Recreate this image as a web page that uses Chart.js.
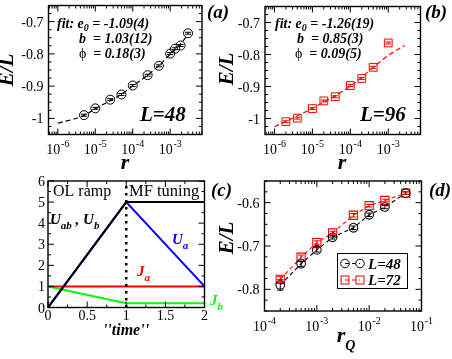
<!DOCTYPE html>
<html><head><meta charset="utf-8">
<script src="https://cdn.jsdelivr.net/npm/chart.js@4/dist/chart.umd.min.js"></script>
<style>
html,body{margin:0;padding:0;background:#fff;}
#wrap{position:relative;width:452px;height:359px;overflow:hidden;background:#fff;}
canvas{position:absolute;left:0;top:0;}
</style></head><body>
<div id="wrap">
<canvas id="ca" width="452" height="359"></canvas>
<canvas id="cb" width="452" height="359"></canvas>
<canvas id="cc" width="452" height="359"></canvas>
<canvas id="cd" width="452" height="359"></canvas>
</div>
<script>
// ---------- data ----------
// panel (a): L=48
const aR = [5e-6, 1e-5, 2.5e-5, 5e-5, 1e-4, 2.5e-4, 5e-4, 1e-3, 1.35e-3, 1.9e-3, 3e-3];
const aE = [-0.990, -0.969, -0.942, -0.926, -0.898, -0.866, -0.837, -0.799, -0.784, -0.774, -0.736];
const aErr = [0.003, 0.003, 0.003, 0.003, 0.003, 0.003, 0.003, 0.003, 0.003, 0.003, 0.003];
const aFitR = [1e-6, 5e-6, 1e-5, 2.5e-5, 5e-5, 1e-4, 2.5e-4, 5e-4, 1e-3, 2e-3, 3e-3];
const aFitE = [-1.015, -0.991, -0.970, -0.945, -0.925, -0.899, -0.866, -0.836, -0.801, -0.766, -0.740];
// panel (b): L=96
const bR = [2e-6, 4e-6, 1e-5, 2e-5, 4e-5, 1e-4, 2e-4, 4e-4, 1e-3];
const bE = [-1.010, -0.999, -0.969, -0.945, -0.932, -0.897, -0.875, -0.840, -0.764];
const bErr = [0.003, 0.003, 0.003, 0.003, 0.003, 0.003, 0.003, 0.003, 0.003];
const bFitR = [1e-6, 1e-5, 1e-4, 1e-3, 2.7e-3];
const bFitE = [-1.026, -0.968, -0.899, -0.803, -0.772];
// panel (c): schedule
const cT = [0, 1, 2];
const cUab = [0, 5, 5];
const cUa = [0, 5, 1];
const cJa = [1, 1, 1];
const cJb = [1, 0.2, 0.2];
const cDotT = [1, 1];
const cDotY = [0, 6];
// panel (d)
const dR = [2e-4, 5e-4, 1e-3, 2e-3, 5e-3, 1e-2, 2e-2, 5e-2];
const d48 = [-0.790, -0.741, -0.709, -0.680, -0.658, -0.628, -0.610, -0.578];
const d48Err = [0.012, 0.006, 0.005, 0.004, 0.004, 0.004, 0.004, 0.003];
const d72 = [-0.777, -0.726, -0.692, -0.670, -0.629, -0.607, -0.595, -0.578];
const d72Err = [0.007, 0.005, 0.004, 0.004, 0.004, 0.003, 0.003, 0.003];
// tick labels
const abYTicks = [-1, -0.9, -0.8, -0.7];
const abYLabels = ['-1', '-0.9', '-0.8', '-0.7'];
const abXExp = [-6, -5, -4, -3];
const cXTicks = [0, 0.5, 1, 1.5, 2];
const cXLabels = ['0', '0.5', '1', '1.5', '2'];
const cYTicks = [0, 1, 2, 3, 4, 5, 6];
const cYLabels = ['0', '1', '2', '3', '4', '5', '6'];
const dYTicks = [-0.8, -0.7, -0.6];
const dYLabels = ['-0.8', '-0.7', '-0.6'];
const dXExp = [-4, -3, -2, -1];

// ---------- helpers ----------
const SERIF = '"Liberation Serif","Times New Roman",serif';
function fnt(size, style) { return (style || '') + ' ' + size + 'px ' + SERIF; }
function pts(xs, ys) { return xs.map((x, i) => ({x: x, y: ys[i]})); }

function logTicks(min, max) {
  const out = [];
  for (let d = Math.floor(Math.log10(min)); d <= Math.ceil(Math.log10(max)); d++) {
    for (let m = 1; m <= 9; m++) {
      const v = m * Math.pow(10, d);
      if (v >= min * 0.9999 && v <= max * 1.0001) out.push({v: v, major: m === 1});
    }
  }
  return out;
}
function linTicks(min, max, minor, major) {
  const out = [];
  const start = Math.ceil(min / minor - 1e-6);
  for (let i = start; i * minor <= max + 1e-9; i++) {
    const v = i * minor;
    out.push({v: v, major: Math.abs(v / major - Math.round(v / major)) < 1e-6});
  }
  return out;
}
function drawFrameTicks(chart, xt, yt) {
  const ctx = chart.ctx, a = chart.chartArea;
  const xs = chart.scales.x, ys = chart.scales.y;
  ctx.save();
  ctx.strokeStyle = '#000';
  ctx.lineWidth = 1;
  ctx.beginPath();
  xt.forEach(t => {
    const p = xs.getPixelForValue(t.v), L = t.major ? 6 : 3;
    ctx.moveTo(p, a.bottom); ctx.lineTo(p, a.bottom - L);
    ctx.moveTo(p, a.top); ctx.lineTo(p, a.top + L);
  });
  yt.forEach(t => {
    const p = ys.getPixelForValue(t.v), L = t.major ? 6 : 3;
    ctx.moveTo(a.left, p); ctx.lineTo(a.left + L, p);
    ctx.moveTo(a.right, p); ctx.lineTo(a.right - L, p);
  });
  ctx.stroke();
  ctx.lineWidth = 1.4;
  ctx.strokeRect(a.left, a.top, a.right - a.left, a.bottom - a.top);
  ctx.restore();
}
function txt(ctx, s, x, y, font, color, align) {
  ctx.font = font; ctx.fillStyle = color || '#000';
  ctx.textAlign = align || 'left'; ctx.textBaseline = 'alphabetic';
  ctx.fillText(s, x, y);
}
// rich text: parts [{t, font, dy, color}]
function rich(ctx, parts, x, y, align) {
  let w = 0;
  parts.forEach(p => { ctx.font = p.font; p.w = ctx.measureText(p.t).width; w += p.w; });
  let cx = align === 'center' ? x - w / 2 : (align === 'right' ? x - w : x);
  parts.forEach(p => {
    ctx.font = p.font; ctx.fillStyle = p.color || '#000';
    ctx.textAlign = 'left'; ctx.textBaseline = 'alphabetic';
    ctx.fillText(p.t, cx, y + (p.dy || 0));
    cx += p.w;
  });
}
function yLabelsDraw(chart, vals, labels, gap) {
  const ctx = chart.ctx, ys = chart.scales.y, a = chart.chartArea;
  vals.forEach((v, i) => txt(ctx, labels[i], a.left - gap, ys.getPixelForValue(v) + 5, fnt(14), '#000', 'right'));
}
function xLogLabels(chart, exps, baseline) {
  const ctx = chart.ctx, xs = chart.scales.x;
  exps.forEach(e => {
    const p = xs.getPixelForValue(Math.pow(10, e));
    rich(ctx, [{t: '10', font: fnt(14)}, {t: ' ' , font: fnt(3)}, {t: String(e), font: fnt(10), dy: -7}], p, baseline, 'center');
  });
}
function vTitle(ctx, s, x, y, size) {
  ctx.save();
  ctx.translate(x, y); ctx.rotate(-Math.PI / 2);
  txt(ctx, s, 0, 0, fnt(size, 'italic bold'), '#000', 'center');
  ctx.restore();
}
function errBars(chart, dsIndex, errs, color, cap) {
  const ctx = chart.ctx, xs = chart.scales.x, ys = chart.scales.y;
  const data = chart.data.datasets[dsIndex].data;
  ctx.save(); ctx.strokeStyle = color; ctx.lineWidth = 1; ctx.beginPath();
  data.forEach((d, i) => {
    const px = xs.getPixelForValue(d.x);
    const y1 = ys.getPixelForValue(d.y - errs[i]), y2 = ys.getPixelForValue(d.y + errs[i]);
    ctx.moveTo(px, y1); ctx.lineTo(px, y2);
    ctx.moveTo(px - cap, y1); ctx.lineTo(px + cap, y1);
    ctx.moveTo(px - cap, y2); ctx.lineTo(px + cap, y2);
  });
  ctx.stroke(); ctx.restore();
}
function baseOpts(area, xs, ys) {
  return {
    responsive: false, animation: false, devicePixelRatio: 1, events: [],
    layout: {padding: {left: area[0], top: area[1], right: 452 - area[2], bottom: 359 - area[3]}},
    plugins: {legend: {display: false}, tooltip: {enabled: false}},
    scales: {x: Object.assign({display: false}, xs), y: Object.assign({display: false}, ys)}
  };
}

// ---------- panel (a) ----------
const abXmin = Math.pow(10, -6.25), abXmax = Math.pow(10, -2.15);
new Chart(document.getElementById('ca'), {
  type: 'scatter',
  data: {datasets: [
    {data: pts(aR, aE), showLine: false, pointStyle: 'circle', pointRadius: 4.5, borderColor: '#000', borderWidth: 1, backgroundColor: 'rgba(0,0,0,0)'},
    {data: pts(aFitR, aFitE), showLine: true, pointRadius: 0, borderColor: '#000', borderWidth: 1.2, borderDash: [5, 3], cubicInterpolationMode: 'monotone'}
  ]},
  options: baseOpts([48.5, 1.5, 202, 134.5], {type: 'logarithmic', min: abXmin, max: abXmax}, {type: 'linear', min: -1.05, max: -0.65}),
  plugins: [{id: 'decoA', afterDraw(chart) {
    const ctx = chart.ctx;
    errBars(chart, 0, aErr, '#000', 3);
    drawFrameTicks(chart, logTicks(abXmin, abXmax), linTicks(-1.05, -0.65, 0.025, 0.1));
    yLabelsDraw(chart, abYTicks, abYLabels, 5);
    xLogLabels(chart, abXExp, 153.5);
    txt(ctx, 'r', 125, 169, fnt(22, 'italic bold'), '#000', 'center');
    vTitle(ctx, 'E/L', 13, 70, 21);
    const bi = fnt(14, 'italic bold');
    rich(ctx, [{t: 'fit: e', font: bi}, {t: '0', font: fnt(10, 'italic bold'), dy: 3}, {t: ' = -1.09(4)', font: bi}], 57, 28);
    rich(ctx, [{t: 'b', font: bi}, {t: '  = 1.03(12)', font: bi}], 79, 43);
    rich(ctx, [{t: 'ϕ', font: fnt(14)}, {t: '  = 0.18(3)', font: bi}], 79, 58);
    txt(ctx, 'L=48', 140, 121, fnt(21, 'italic bold'), '#000', 'left');
    txt(ctx, '(a)', 207, 18, fnt(19, 'italic bold'), '#000', 'left');
  }}]
});

// ---------- panel (b) ----------
new Chart(document.getElementById('cb'), {
  type: 'scatter',
  data: {datasets: [
    {data: pts(bR, bE), showLine: false, pointStyle: 'rect', pointRadius: 5.5, borderColor: '#ff0000', borderWidth: 1, backgroundColor: 'rgba(0,0,0,0)'},
    {data: pts(bFitR, bFitE), showLine: true, pointRadius: 0, borderColor: '#ff0000', borderWidth: 1.2, borderDash: [5, 3], cubicInterpolationMode: 'monotone'}
  ]},
  options: baseOpts([265, 1.5, 420.5, 134.5], {type: 'logarithmic', min: abXmin, max: abXmax}, {type: 'linear', min: -1.05, max: -0.65}),
  plugins: [{id: 'decoB', afterDraw(chart) {
    const ctx = chart.ctx;
    errBars(chart, 0, bErr, '#ff0000', 3);
    drawFrameTicks(chart, logTicks(abXmin, abXmax), linTicks(-1.05, -0.65, 0.025, 0.1));
    yLabelsDraw(chart, abYTicks, abYLabels, 5);
    xLogLabels(chart, abXExp, 153.5);
    txt(ctx, 'r', 342, 169, fnt(22, 'italic bold'), '#000', 'center');
    vTitle(ctx, 'E/L', 233, 69, 21);
    const bi = fnt(14, 'italic bold');
    rich(ctx, [{t: 'fit: e', font: bi}, {t: '0', font: fnt(10, 'italic bold'), dy: 3}, {t: ' = -1.26(19)', font: bi}], 275, 28);
    rich(ctx, [{t: 'b', font: bi}, {t: '  = 0.85(3)', font: bi}], 297, 43);
    rich(ctx, [{t: 'ϕ', font: fnt(14)}, {t: '  = 0.09(5)', font: bi}], 295, 58);
    txt(ctx, 'L=96', 360, 121, fnt(21, 'italic bold'), '#000', 'left');
    txt(ctx, '(b)', 425, 18, fnt(19, 'italic bold'), '#000', 'left');
  }}]
});

// ---------- panel (c) ----------
new Chart(document.getElementById('cc'), {
  type: 'scatter',
  data: {datasets: [
    {data: pts(cT, cUab), showLine: true, pointRadius: 0, borderColor: '#000', borderWidth: 2},
    {data: pts(cT, cUa), showLine: true, pointRadius: 0, borderColor: '#0000ff', borderWidth: 2},
    {data: pts(cDotT, cDotY), showLine: true, pointRadius: 0, borderColor: '#000', borderWidth: 2.5, borderDash: [2.5, 4.5]},
    {data: pts(cT, cJa), showLine: true, pointRadius: 0, borderColor: '#ff0000', borderWidth: 2},
    {data: pts(cT, cJb), showLine: true, pointRadius: 0, borderColor: '#00ff00', borderWidth: 2}
  ]},
  options: baseOpts([48, 181, 204.5, 307.5], {type: 'linear', min: 0, max: 2}, {type: 'linear', min: 0, max: 6}),
  plugins: [{id: 'decoC', afterDraw(chart) {
    const ctx = chart.ctx, xs = chart.scales.x;
    drawFrameTicks(chart, linTicks(0, 2, 0.25, 0.5), linTicks(0, 6, 0.5, 1));
    yLabelsDraw(chart, cYTicks, cYLabels, 3);
    cXTicks.forEach((v, i) => txt(ctx, cXLabels[i], xs.getPixelForValue(v), 320, fnt(14), '#000', 'center'));
    txt(ctx, "''time''", 126, 335, fnt(16, 'italic bold'), '#000', 'center');
    txt(ctx, 'OL ramp', 53, 196, fnt(16), '#000', 'left');
    txt(ctx, 'MF tuning', 129, 196, fnt(16.5), '#000', 'left');
    const u = fnt(15, 'italic bold'), s = fnt(11, 'italic bold');
    rich(ctx, [{t: 'U', font: u}, {t: 'ab', font: s, dy: 5}, {t: ' , ', font: u}, {t: 'U', font: u}, {t: 'b', font: s, dy: 5}], 50, 224);
    rich(ctx, [{t: 'U', font: u, color: '#0000ff'}, {t: 'a', font: s, dy: 5, color: '#0000ff'}], 172, 244);
    rich(ctx, [{t: 'J', font: u, color: '#ff0000'}, {t: 'a', font: s, dy: 5, color: '#ff0000'}], 137, 276);
    rich(ctx, [{t: 'J', font: u, color: '#00ff00'}, {t: 'b', font: s, dy: 5, color: '#00ff00'}], 210, 305);
    txt(ctx, '(c)', 211, 196, fnt(19, 'italic bold'), '#000', 'left');
  }}]
});

// ---------- panel (d) ----------
new Chart(document.getElementById('cd'), {
  type: 'scatter',
  data: {datasets: [
    {data: pts(dR, d48), showLine: true, pointStyle: 'circle', pointRadius: 4.3, borderColor: '#000', pointBorderColor: '#000', borderWidth: 1.1, backgroundColor: 'rgba(0,0,0,0)', borderDash: [4, 3]},
    {data: pts(dR, d72), showLine: true, pointStyle: 'rect', pointRadius: 5.8, borderColor: '#ff0000', pointBorderColor: '#ff0000', borderWidth: 1.1, backgroundColor: 'rgba(0,0,0,0)', borderDash: [4, 3]}
  ]},
  options: baseOpts([264.5, 181, 421.5, 311], {type: 'logarithmic', min: 1e-4, max: 1e-1}, {type: 'linear', min: -0.85, max: -0.55}),
  plugins: [{id: 'decoD', afterDraw(chart) {
    const ctx = chart.ctx;
    errBars(chart, 0, d48Err, '#000', 3);
    errBars(chart, 1, d72Err, '#ff0000', 3);
    drawFrameTicks(chart, logTicks(1e-4, 1e-1), linTicks(-0.85, -0.55, 0.025, 0.1));
    yLabelsDraw(chart, dYTicks, dYLabels, 5);
    xLogLabels(chart, dXExp, 331);
    rich(ctx, [{t: 'r', font: fnt(22, 'italic bold')}, {t: 'Q', font: fnt(14, 'italic bold'), dy: 8}], 346, 342, 'center');
    vTitle(ctx, 'E/L', 233, 238, 21);
    txt(ctx, '(d)', 429, 196, fnt(19, 'italic bold'), '#000', 'left');
    // legend
    ctx.save();
    ctx.fillStyle = '#fff'; ctx.fillRect(337.5, 253.5, 70, 35);
    ctx.strokeStyle = '#000'; ctx.lineWidth = 1; ctx.strokeRect(337.5, 253.5, 70, 35);
    ctx.setLineDash([4, 3]);
    ctx.beginPath(); ctx.moveTo(345, 263.5); ctx.lineTo(360, 263.5); ctx.stroke();
    ctx.strokeStyle = '#ff0000';
    ctx.beginPath(); ctx.moveTo(345, 280); ctx.lineTo(360, 280); ctx.stroke();
    ctx.setLineDash([]);
    ctx.strokeStyle = '#000';
    [345, 360].forEach(x => { ctx.beginPath(); ctx.arc(x, 263.5, 4.3, 0, Math.PI * 2); ctx.stroke(); });
    ctx.strokeStyle = '#ff0000';
    [345, 360].forEach(x => { ctx.strokeRect(x - 4, 276, 8, 8); });
    ctx.restore();
    txt(ctx, 'L=48', 368, 268.5, fnt(15, 'italic bold'), '#000', 'left');
    txt(ctx, 'L=72', 368, 285, fnt(15, 'italic bold'), '#000', 'left');
  }}]
});
</script>
</body></html>
